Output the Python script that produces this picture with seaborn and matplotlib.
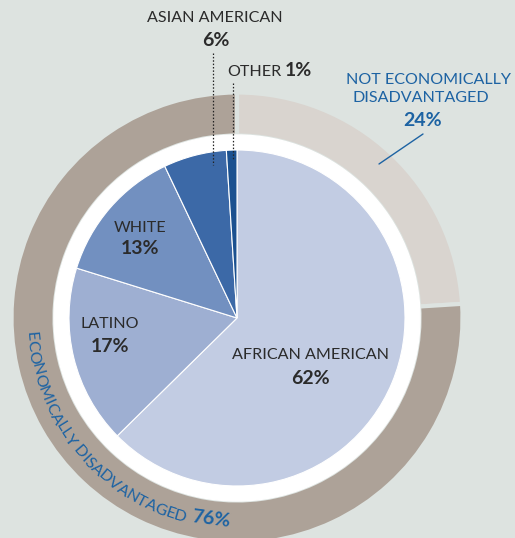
import numpy as np
import matplotlib
matplotlib.use("Agg")
import matplotlib.pyplot as plt
import seaborn as sns
from matplotlib.font_manager import FontProperties

# ---- data ----
race_labels = ["AFRICAN AMERICAN", "LATINO", "WHITE", "ASIAN AMERICAN", "OTHER"]
race_values = [62, 17, 13, 6, 1]
econ_labels = ["NOT ECONOMICALLY\nDISADVANTAGED", "ECONOMICALLY DISADVANTAGED"]
econ_values = [24, 76]

race_colors = ["#c2cce3", "#9eafd2", "#7290c0", "#3c69a7", "#1b5190"]
econ_colors = ["#d9d4cf", "#ada298"]
BG = "#dde3e0"
DARK = "#2b2b2b"
BLUE = "#1d63a3"
FS = 11.6
FSB = 14.0

sns.set_theme(style="white")
plt.rcParams["font.family"] = ["Lato", "DejaVu Sans"]

W, H = 515, 538
fig = plt.figure(figsize=(W / 100, H / 100), dpi=100, facecolor=BG)
ax = fig.add_axes([0, 0, 1, 1])
ax.set_facecolor(BG)

cx, cy = 237, H - 318
center = (cx, cy)

# outer ring
ax.pie(econ_values, colors=econ_colors, startangle=90, counterclock=False,
       center=center, radius=225.5, frame=True,
       wedgeprops=dict(width=43, edgecolor=BG, linewidth=3.0))
# white ring
ax.add_patch(plt.Circle(center, 183, color="white", zorder=2))
# inner pie
wedges, _ = ax.pie(race_values, colors=race_colors, startangle=90, counterclock=False,
                   center=center, radius=168, frame=True,
                   wedgeprops=dict(edgecolor="white", linewidth=0.8))
for w in wedges:
    w.set_zorder(3)
ax.set_xlim(0, W)
ax.set_ylim(0, H)
ax.set_aspect("equal")
ax.axis("off")

def T(x, y, s, bold=False, color=DARK, size=FS, **kw):
    ax.text(x, H - y, s, ha="center", va="center", color=color, fontsize=size,
            fontweight="bold" if bold else "normal", zorder=5, **kw)

# inner labels
T(310, 355, race_labels[0])
T(310, 378, f"{race_values[0]}%", bold=True, size=FSB)
T(110, 324, race_labels[1])
T(110, 346, f"{race_values[1]}%", bold=True, size=FSB)
T(140, 228, race_labels[2])
T(140, 249, f"{race_values[2]}%", bold=True, size=FSB)

# Asian American callout
T(215, 18, race_labels[3])
T(216, 41, f"{race_values[3]}%", bold=True, size=FSB)
ax.plot([213, 213], [H - 53, H - 165], color="#222222", lw=0.9, ls=(0, (1.2, 1.5)), zorder=6)

# Other callout
ax.text(227, H - 72, race_labels[4], ha="left", va="center", color=DARK, fontsize=FS, zorder=5)
ax.text(285, H - 71, f"{race_values[4]}%", ha="left", va="center", color=DARK, fontsize=FSB,
        fontweight="bold", zorder=5)
ax.plot([233, 233], [H - 83, H - 160], color="#222222", lw=0.9, ls=(0, (1.2, 1.5)), zorder=6)

# Not economically disadvantaged
T(429, 80, "NOT ECONOMICALLY", color=BLUE)
T(421, 98, "DISADVANTAGED", color=BLUE)
T(423, 120, f"{econ_values[0]}%", bold=True, color=BLUE, size=FSB)
ax.plot([423, 379], [H - 134, H - 164], color=BLUE, lw=1.0, zorder=6)

# curved label along outer ring
text = econ_labels[1]
r_txt = 207
start_deg, end_deg = 185.0, 254.0
fp = FontProperties(family=["Lato", "DejaVu Sans"], size=FS)
renderer = fig.canvas.get_renderer()
def adv(s):
    if not s:
        return 0.0
    w, h, d = renderer.get_text_width_height_descent(s.replace(" ", "\u00a0"), fp, ismath=False)
    return w
pre = [adv(text[:i]) for i in range(len(text) + 1)]
centers = np.array([(pre[i] + pre[i + 1]) / 2 for i in range(len(text))])
t = (centers - centers[0]) / (centers[-1] - centers[0])
angles = np.deg2rad(start_deg + t * (end_deg - start_deg))
for ch, phi in zip(text, angles):
    if ch == " ":
        continue
    x = cx + r_txt * np.cos(phi)
    y = cy + r_txt * np.sin(phi)
    ax.text(x, y, ch, ha="center", va="center", rotation=np.rad2deg(phi) - 270,
            rotation_mode="anchor", color=BLUE, fontsize=FS, zorder=5)
phi = np.deg2rad(262.5)
ax.text(cx + 203 * np.cos(phi), cy + 203 * np.sin(phi), f"{econ_values[1]}%",
        ha="center", va="center", rotation=np.rad2deg(phi) - 270, rotation_mode="anchor",
        color=BLUE, fontsize=FSB, fontweight="bold", zorder=5)

fig.savefig("out.png", dpi=100, facecolor=BG)
